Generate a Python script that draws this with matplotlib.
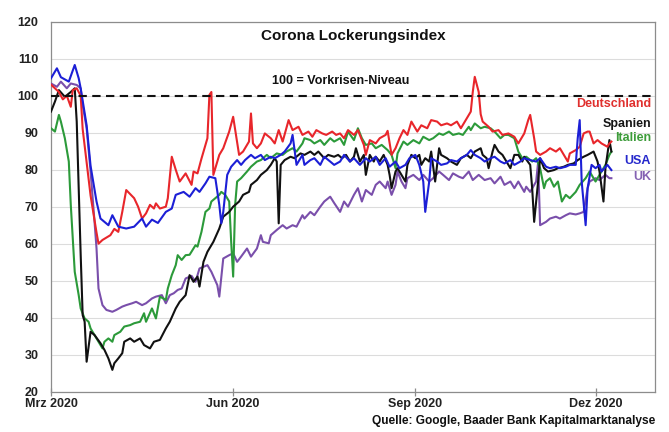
import numpy as np
import pandas as pd
import matplotlib
matplotlib.use("Agg")
import matplotlib.pyplot as plt

plt.rcParams["font.family"] = ["Liberation Sans", "DejaVu Sans"]
plt.rcParams["font.weight"] = "bold"

start = pd.Timestamp("2020-03-01")

# Tage seit 1. März 2020 und Indexwerte je Land
de_days = [0, 2, 4, 6, 8, 10, 11, 13, 15, 16, 18, 20, 23, 24, 26, 30, 32, 34, 36, 38, 42, 44, 46, 48, 50,
           52, 53, 55, 58, 59, 61, 63, 65, 68, 71, 72, 74, 76, 79, 80, 81, 82, 85, 87, 90, 92, 95, 97, 100,
           101, 102, 104, 106, 108, 111, 113, 115, 117, 120, 122, 125, 127, 130, 132, 134, 137, 139, 142,
           144, 146, 148, 150, 153, 155, 158, 159, 161, 164, 166, 169, 170, 172, 174, 176, 178, 180, 182,
           185, 187, 190, 192, 195, 197, 200, 202, 205, 207, 210, 212, 213, 214, 216, 217, 218, 221, 223,
           226, 228, 231, 234, 236, 239, 241, 242, 244, 245, 247, 250, 252, 255, 257, 259, 261, 262, 265,
           267, 269, 271, 272, 274, 276, 278, 281, 282, 283]
de_vals = [103, 102, 101, 99, 100, 97, 101.5, 102, 100, 91, 82, 73, 63, 60, 61, 62.3, 64, 63.2, 68.6, 74.5,
           72.3, 70, 66.8, 68.2, 70.5, 69.5, 70.9, 69.5, 70, 72.3, 83.5, 80, 76.8, 79, 75.9, 79.5, 79, 83,
           88.5, 100.2, 101, 78.6, 84, 85.8, 90.3, 94.3, 84, 84.9, 87.6, 95.2, 87.1, 85.8, 87.1, 89.8, 88.5,
           87.1, 90.7, 87.6, 93.4, 90.7, 91.6, 89.4, 90.3, 88.9, 90.7, 89.8, 89.4, 90.3, 89.4, 89.8, 88.5,
           90.7, 89.4, 90.7, 86.7, 84, 88, 87.1, 88.5, 89.4, 90.5, 84, 85.8, 88.5, 90.7, 89.4, 93, 90.3, 92,
           91.2, 93.4, 93, 92, 92.5, 92, 93, 91.2, 93.9, 95.7, 101, 105.1, 101, 95, 93, 91.6, 90.3, 90.7,
           89.4, 89.8, 88.9, 87.1, 89.8, 93.4, 94.8, 88.5, 84.9, 84, 84.9, 85.8, 84.9, 85.8, 84, 82.2, 84.4,
           85.3, 86.2, 89.8, 90.3, 90.3, 87.1, 88, 87.1, 86.2, 87.1, 87.6]

es_days = [0, 2, 4, 7, 10, 12, 13, 14, 15, 16, 17, 18, 20, 22, 25, 27, 29, 31, 32, 34, 36, 37, 40, 42, 45,
           47, 50, 52, 55, 58, 60, 63, 65, 68, 70, 72, 74, 75, 77, 79, 80, 82, 85, 87, 90, 92, 95, 97, 100,
           101, 104, 106, 109, 111, 113, 114, 115, 116, 118, 121, 123, 126, 128, 131, 133, 135, 138, 140,
           143, 145, 147, 149, 151, 153, 154, 156, 158, 159, 161, 163, 164, 166, 168, 170, 171, 172, 174,
           175, 177, 179, 180, 182, 184, 186, 187, 189, 191, 192, 194, 196, 197, 200, 202, 205, 207, 210,
           212, 214, 217, 218, 220, 221, 223, 224, 226, 228, 229, 232, 234, 236, 238, 239, 242, 243, 244,
           246, 247, 249, 251, 254, 256, 259, 261, 264, 266, 269, 271, 274, 276, 277, 279, 280, 282, 283]
es_vals = [95.7, 98.4, 101.5, 99.7, 101, 102, 93, 75, 57, 40.7, 38.9, 28.1, 36.2, 35.3, 33.1, 31.3, 29,
           25.9, 27.7, 29, 30.4, 33.5, 34.4, 33.5, 34.4, 32.6, 31.7, 33.5, 34, 37.1, 38.9, 42.5, 44.3, 46.1,
           51.5, 49.7, 51.1, 48.4, 55.1, 57.8, 58.7, 60.5, 64.1, 67.3, 68.6, 70, 71.4, 73.2, 74, 75.9, 77.2,
           78.6, 79.9, 81.3, 83.1, 82.2, 65.5, 81.3, 82.6, 83.5, 83.1, 84.4, 84, 84.9, 84, 84.9, 83.1, 84,
           83.5, 84, 83.1, 84, 82.2, 83.5, 85.8, 82.2, 84, 78.6, 84, 82.2, 83.5, 82.2, 84, 81.3, 78.6, 75,
           79.5, 80.4, 78.6, 76.8, 81.3, 84, 83.1, 84, 81.3, 83.1, 82.2, 84.9, 76.8, 85.8, 84, 83.1, 82.2,
           81.3, 83.1, 84, 83.1, 84.9, 85.8, 84, 83.1, 80.4, 84.9, 86.7, 84.9, 84, 83.1, 80.4, 84, 84, 82.2,
           83.5, 81.3, 75, 65.9, 76.8, 83.1, 80.4, 79.5, 79.9, 80.4, 80.8, 81.3, 81.7, 82.6, 83.5, 84, 84.9,
           82.2, 79.5, 71.4, 80.4, 88, 84.9]

it_days = [0, 2, 4, 5, 7, 9, 10, 12, 14, 15, 17, 19, 20, 22, 24, 26, 27, 29, 31, 32, 35, 37, 40, 42, 45,
           47, 48, 51, 53, 55, 58, 59, 61, 63, 64, 66, 68, 70, 73, 74, 76, 78, 80, 81, 83, 85, 86, 88, 90,
           91, 92, 93, 94, 96, 99, 101, 104, 106, 109, 111, 114, 117, 119, 122, 124, 127, 128, 131, 133,
           136, 138, 141, 143, 146, 148, 150, 153, 155, 157, 159, 162, 164, 167, 170, 172, 174, 175, 178,
           180, 183, 186, 188, 191, 193, 196, 198, 201, 203, 206, 208, 211, 212, 214, 217, 219, 222, 224,
           227, 229, 231, 234, 236, 238, 240, 243, 245, 247, 249, 250, 252, 254, 256, 258, 260, 262, 265,
           267, 270, 272, 275, 277, 280, 282, 283]
it_vals = [91.2, 90.3, 94.8, 93, 88.5, 82.2, 70.5, 52.4, 46.1, 42.5, 39.8, 38.9, 37.1, 35.3, 33.5, 31.7,
           33.5, 34.4, 33.5, 35.3, 36.2, 37.6, 38, 38.5, 38.9, 41.2, 38.9, 42.5, 39.8, 45.7, 44.8, 47.9,
           51.5, 54.2, 56.9, 55.6, 56.9, 57, 59.6, 59.2, 63.2, 68.6, 69.5, 71.4, 72.3, 73.2, 74, 73.2, 71.4,
           60.5, 51.1, 70.5, 76.8, 77.7, 79.5, 80.8, 82.2, 82.6, 84, 83.1, 84.4, 84, 84.9, 85.8, 84.9, 87.1,
           88.5, 88, 87.1, 88, 86.7, 88.5, 87.6, 88.5, 86.7, 90.3, 88, 91.2, 88.5, 86.7, 87.1, 85.8, 86.7,
           85.3, 84, 80.4, 84.4, 87.6, 86.7, 88, 87.1, 88.9, 88, 88.5, 89.8, 89.4, 90.3, 89.4, 89.8, 89.4,
           91.6, 90.7, 92.5, 91.2, 91.6, 91.2, 90.3, 88.5, 89.4, 89.4, 88.5, 84.9, 83.1, 83.5, 82.2, 83.1,
           80.4, 75, 76.8, 77.7, 75.4, 76.8, 71.4, 73.2, 72.3, 74, 75.9, 77.7, 79.5, 76.8, 78.6, 81.3, 84,
           84.9]

us_days = [0, 3, 5, 9, 12, 14, 15, 18, 20, 23, 25, 29, 31, 34, 38, 42, 46, 48, 51, 54, 58, 61, 63, 67, 70,
           73, 75, 78, 80, 83, 85, 86, 87, 89, 91, 94, 96, 98, 101, 103, 106, 108, 111, 113, 116, 118, 121,
           122, 124, 127, 128, 131, 133, 136, 138, 141, 143, 146, 148, 151, 153, 156, 159, 161, 164, 166,
           169, 171, 174, 176, 179, 181, 184, 186, 188, 189, 191, 192, 195, 197, 200, 202, 205, 207, 210,
           212, 214, 217, 219, 222, 224, 227, 229, 232, 234, 237, 239, 242, 245, 247, 250, 252, 255, 257,
           260, 262, 265, 266, 267, 268, 270, 271, 273, 275, 277, 278, 281, 283]
us_vals = [104.7, 107.4, 105, 103.8, 108.3, 104.7, 102, 92, 81, 71.4, 66.8, 65, 67.7, 64.6, 64.1, 64.6,
           66.8, 64.6, 66.5, 65.6, 68.6, 69.5, 73.2, 74, 72.7, 75, 74, 76.3, 78.1, 77.7, 70.5, 65.5, 68.6,
           78.6, 80.8, 82.6, 81.3, 82.6, 84, 83.1, 84, 82.6, 83.5, 83.1, 84, 84.9, 87.1, 89.4, 81.3, 84,
           81.3, 82.6, 83.1, 81.3, 83.5, 82.2, 81.3, 82.2, 84, 82.2, 83.1, 81.3, 83.1, 82.2, 83.5, 81.3,
           83.1, 80.8, 82.2, 80.4, 81.3, 83.1, 84, 81.3, 76.8, 68.6, 76.8, 83.1, 82.2, 81.3, 81.7, 82.6,
           82.2, 83.1, 84, 85.3, 84, 83.1, 82.2, 83.1, 83.5, 82.2, 81.7, 82.6, 81.3, 82.2, 83.1, 82.6, 82.2,
           83.1, 80.8, 80.4, 80.8, 80.4, 80.8, 81.3, 81.3, 88.5, 93.4, 76.8, 65, 75, 81.3, 80.4, 81.3, 79.5,
           81.3, 79.9]

uk_days = [0, 3, 5, 8, 10, 13, 15, 16, 18, 20, 22, 23, 24, 26, 28, 31, 33, 36, 38, 41, 43, 46, 48, 51, 53,
           56, 58, 60, 62, 64, 66, 68, 71, 73, 75, 79, 81, 84, 85, 87, 90, 92, 94, 96, 99, 101, 104, 106,
           107, 110, 111, 114, 117, 119, 122, 124, 127, 128, 131, 133, 136, 138, 141, 143, 146, 148, 150,
           153, 155, 157, 159, 162, 164, 166, 169, 170, 172, 174, 175, 177, 179, 180, 183, 186, 188, 191,
           193, 196, 198, 201, 203, 206, 208, 211, 213, 216, 219, 222, 224, 227, 229, 232, 234, 236, 239,
           240, 242, 245, 246, 247, 250, 252, 255, 257, 260, 262, 265, 267, 269, 271, 272, 275, 277, 280,
           282, 283]
uk_vals = [103.3, 102.4, 103.8, 102, 103.3, 102.9, 102, 97.5, 91.2, 79.5, 65.9, 58.7, 47.9, 43.4, 42.1,
           41.6, 42.1, 43, 43.4, 43.9, 44.3, 43.4, 43.9, 45.2, 45.7, 46.1, 43.9, 46.1, 46.6, 47.5, 47.9,
           50.6, 51.3, 49.7, 53.3, 54.2, 52.4, 48.8, 45.7, 56, 56.9, 57.4, 55.1, 56.5, 58.7, 56.5, 58.7,
           62.3, 60.5, 60.1, 62.3, 63.7, 65, 64.1, 65, 64.6, 67.7, 66.8, 68.6, 67.7, 70, 71.4, 72.7, 71,
           68.6, 71.4, 70, 73.2, 75, 71.4, 74.5, 73.2, 75.9, 76.8, 75, 76.8, 73.2, 75.9, 79.5, 76.8, 75,
           77.7, 78.6, 77.2, 78.6, 76.8, 77.7, 79.5, 78.6, 77.2, 79, 78.1, 77.7, 79.5, 77.2, 78.6, 77.2,
           77.7, 76.3, 78.1, 75.9, 76.8, 75, 76.8, 74, 75.4, 74, 76.8, 82, 65, 65.9, 66.8, 67.3, 66.8, 67.7,
           68.2, 67.9, 68.2, 68.6, 75, 76.8, 77.7, 77.2, 78.6, 77.7, 77.7]

countries = ["Deutschland", "Spanien", "Italien", "USA", "UK"]
label_levels = [97.7, 92.3, 88.5, 82.4, 78.1]
tick_dates = ["2020-03-01", "2020-06-01", "2020-09-01", "2020-12-01"]
tick_labels = ["Mrz 2020", "Jun 2020", "Sep 2020", "Dez 2020"]
y_ticks = [20, 30, 40, 50, 60, 70, 80, 90, 100, 110, 120]

line_colors = {"Deutschland": "#e8262b", "Spanien": "#111111", "Italien": "#2c9a3a",
               "USA": "#1c1fd6", "UK": "#7a4fab"}
label_colors = {"Deutschland": "#e0302e", "Spanien": "#151515", "Italien": "#3d9c3a",
                "USA": "#2528cc", "UK": "#8462b2"}

series = {
    "Deutschland": (de_days, de_vals),
    "Spanien": (es_days, es_vals),
    "Italien": (it_days, it_vals),
    "USA": (us_days, us_vals),
    "UK": (uk_days, uk_vals),
}


def to_dates(days):
    return start + pd.to_timedelta(np.asarray(days), unit="D")


fig = plt.figure(figsize=(6.69, 4.32), dpi=100)
ax = fig.add_axes([0.0762, 0.0933, 0.9028, 0.8565])

for name in ["UK", "Italien", "Spanien", "Deutschland", "USA"]:
    d, v = series[name]
    ax.plot(to_dates(d), v, color=line_colors[name], lw=1.5, solid_joinstyle="round", zorder=3)

ax.axhline(100, color="#111111", lw=1.5, ls=(0, (4, 2.6)), zorder=4)

ax.set_xlim(pd.Timestamp("2020-03-01"), pd.Timestamp("2020-12-31"))
ax.set_ylim(20, 120)
ax.set_yticks(y_ticks)
ax.set_yticklabels([str(t) for t in y_ticks])
ax.set_xticks(pd.to_datetime(tick_dates))
ax.set_xticklabels(tick_labels)

ax.grid(axis="y", color="#dcdcdc", lw=0.8, zorder=0)
for s in ax.spines.values():
    s.set_color("#8c8c8c")
    s.set_linewidth(0.9)

ax.tick_params(axis="y", length=0, pad=9, labelsize=9, labelcolor="#222222")
ax.tick_params(axis="x", direction="inout", length=6, width=0.9, color="#8c8c8c",
               pad=1.5, labelsize=9, labelcolor="#222222")
for lab in ax.get_xticklabels() + ax.get_yticklabels():
    lab.set_fontweight("bold")

ax.text(0.5, 0.962, "Corona Lockerungsindex", transform=ax.transAxes, ha="center", va="center",
        fontsize=11, fontweight="bold", color="#111111")
ax.text(0.48, 0.839, "100 = Vorkrisen-Niveau", transform=ax.transAxes, ha="center", va="center",
        fontsize=9, fontweight="bold", color="#111111")

for name, lvl in zip(countries, label_levels):
    ax.text(0.9934, lvl, name, transform=ax.get_yaxis_transform(), ha="right", va="center",
            fontsize=9, fontweight="bold", color=label_colors[name])

fig.text(655 / 669, 1 - 421 / 432, "Quelle: Google, Baader Bank Kapitalmarktanalyse",
         ha="right", va="center", fontsize=8.6, fontweight="bold", color="#111111")

fig.savefig("out.png", dpi=100)
